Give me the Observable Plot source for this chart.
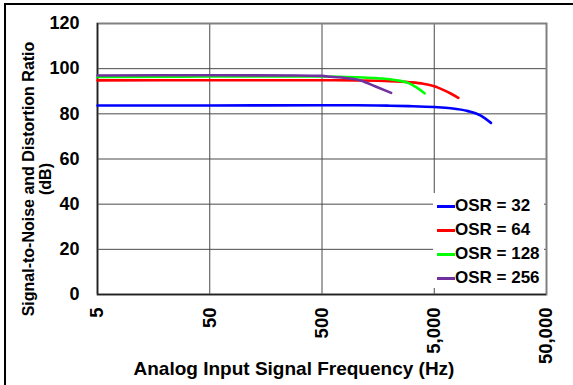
<!DOCTYPE html>
<html>
<head>
<meta charset="utf-8">
<script src="https://cdn.jsdelivr.net/npm/d3@7"></script>
<script src="https://cdn.jsdelivr.net/npm/@observablehq/plot@0.6"></script>
<style>
  html, body { margin: 0; padding: 0; background: #fff; }
  #wrap { position: relative; width: 573px; height: 385px; overflow: hidden; font-family: "Liberation Sans", Arial, sans-serif; }
  #border { position: absolute; left: 4px; top: 3px; width: 600px; height: 400px; border-left: 2px solid #000; border-top: 2px solid #000; box-sizing: border-box; pointer-events: none; }
  #legend { position: absolute; left: 433px; top: 193px; width: 111px; height: 95px; background: #fff; font-weight: bold; font-size: 17px; color: #000; box-sizing: border-box; padding-top: 1px; }
  .row { display: flex; align-items: center; height: 24px; }
  .sw { width: 18px; height: 3px; margin-left: 4px; }
</style>
</head>
<body>
<div id="wrap"></div>
<script>
// ---- data ----
const xTicks = [5, 50, 500, 5000, 50000];
const yTicks = [0, 20, 40, 60, 80, 100, 120];

const seriesNames = ["OSR = 32", "OSR = 64", "OSR = 128", "OSR = 256"];
const seriesColors = ["#0000FF", "#FF0000", "#00FF00", "#7030A0"];

const freq32 = [5, 50, 500, 1000, 2000, 3000, 5000, 7000, 10000, 13000, 16000];
const snr32  = [83.7, 83.7, 83.8, 83.8, 83.6, 83.4, 83.0, 82.5, 81.2, 79.2, 76.0];

const freq64 = [5, 50, 500, 1000, 2000, 3000, 4000, 5000, 6000, 7000, 8200];
const snr64  = [94.8, 94.9, 94.9, 94.8, 94.5, 94.0, 93.3, 92.2, 90.6, 89.0, 87.1];

const freq128 = [5, 50, 500, 1000, 1500, 2000, 2500, 3000, 3500, 4100];
const snr128  = [96.3, 96.5, 96.5, 96.2, 95.8, 95.3, 94.6, 93.5, 91.6, 89.1];

const freq256 = [5, 50, 300, 500, 600, 800, 1100, 1500, 2066];
const snr256  = [97.0, 97.1, 97.0, 96.8, 96.4, 95.9, 94.8, 92.1, 89.3];

// ---- build table ----
const freqs = [freq32, freq64, freq128, freq256];
const snrs = [snr32, snr64, snr128, snr256];
const data = [];
seriesNames.forEach((name, i) => {
  freqs[i].forEach((f, j) => data.push({series: name, f, snr: snrs[i][j]}));
});

const chart = Plot.plot({
  width: 573,
  height: 385,
  marginLeft: 97,
  marginRight: 27,
  marginTop: 23,
  marginBottom: 91,
  style: {fontFamily: "'Liberation Sans', Arial, sans-serif", fontWeight: "bold", fontSize: "18px", color: "#000", background: "transparent", overflow: "visible"},
  x: {type: "log", domain: [5, 50000], axis: null},
  y: {domain: [0, 120]},
  color: {domain: seriesNames, range: seriesColors},
  marks: [
    Plot.gridX(xTicks, {stroke: "#4a4a4a", strokeOpacity: 1, strokeWidth: 1}),
    Plot.gridY(yTicks, {stroke: "#4a4a4a", strokeOpacity: 1, strokeWidth: 1}),
    Plot.frame({stroke: "#808080", strokeWidth: 2}),
    Plot.ruleX([5], {stroke: "#222", strokeWidth: 1.5}),
    Plot.ruleY([0], {stroke: "#222", strokeWidth: 1.5}),
    Plot.axisY(yTicks, {tickSize: 0, tickPadding: 18, label: null, fontSize: 18}),
    Plot.text(xTicks, {x: d => d, frameAnchor: "bottom", dy: 13, rotate: -90, textAnchor: "end", lineAnchor: "middle", text: d => d3.format(",")(d), fontSize: 18.5, fontWeight: "bold", fill: "#000"}),
    Plot.line(data, {x: "f", y: "snr", z: "series", stroke: "series", strokeWidth: 2.6, curve: "monotone-x"})
  ]
});

const wrap = document.getElementById("wrap");
wrap.appendChild(chart);

const svg = d3.select(chart);
// y axis title (two lines)
const yt = svg.append("text")
  .attr("transform", "translate(0,179) rotate(-90)")
  .attr("text-anchor", "middle")
  .style("font-size", "16px").style("font-weight", "bold").attr("fill", "#000");
yt.append("tspan").attr("x", 0).attr("y", 33.5).text("Signal-to-Noise and Distortion Ratio");
yt.append("tspan").attr("x", 0).attr("y", 51).text("(dB)");
// x axis title
svg.append("text")
  .attr("x", 294).attr("y", 375)
  .attr("text-anchor", "middle")
  .style("font-size", "19px").style("font-weight", "bold").attr("fill", "#000")
  .text("Analog Input Signal Frequency (Hz)");

// border
const border = document.createElement("div");
border.id = "border";
wrap.appendChild(border);

// legend
const legend = document.createElement("div");
legend.id = "legend";
seriesNames.forEach((name, i) => {
  const row = document.createElement("div");
  row.className = "row";
  const sw = document.createElement("span");
  sw.className = "sw";
  sw.style.background = seriesColors[i];
  const lab = document.createElement("span");
  lab.textContent = name;
  row.appendChild(sw);
  row.appendChild(lab);
  legend.appendChild(row);
});
wrap.appendChild(legend);
</script>
</body>
</html>
